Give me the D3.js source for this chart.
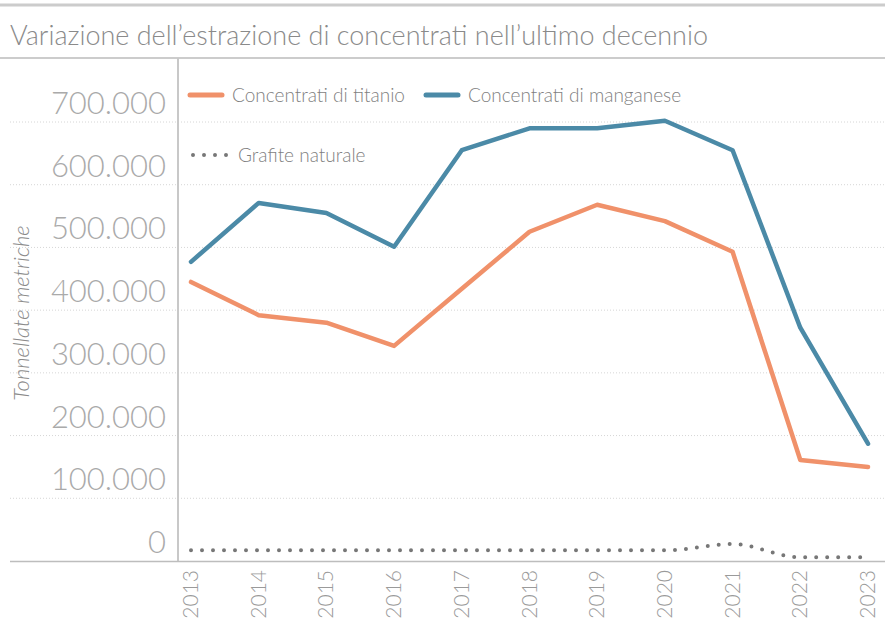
<!DOCTYPE html>
<html>
<head>
<meta charset="utf-8">
<script src="https://cdn.jsdelivr.net/npm/d3@7"></script>
<style>
  body { margin: 0; background: #fff; }
  svg { display: block; font-family: Lato, "Open Sans", sans-serif; }
</style>
</head>
<body>
<svg id="chart" width="885" height="644"></svg>
<script>
// chart data
const years = [2013, 2014, 2015, 2016, 2017, 2018, 2019, 2020, 2021, 2022, 2023];
const titanio = [445000, 392000, 380000, 343000, 434000, 525000, 568000, 542000, 493000, 161000, 150000];
const manganese = [477000, 571000, 555000, 501000, 655000, 690000, 690000, 702000, 655000, 372000, 187000];
const grafite = [17000, 17000, 17000, 17000, 17000, 17000, 17000, 17000, 27000, 6000, 6000];
const yTicks = [0, 100000, 200000, 300000, 400000, 500000, 600000, 700000];

const COLORS = { titanio: "#f0916a", manganese: "#4b8aa7", grafite: "#777777" };

const svg = d3.select("#chart");
const W = 885;

// top rules + title
svg.append("line").attr("x1", 0).attr("x2", W).attr("y1", 5).attr("y2", 5)
  .attr("stroke", "#cccccc").attr("stroke-width", 3);
svg.append("text").attr("x", 10).attr("y", 45)
  .attr("font-size", 27).attr("font-weight", 300).attr("fill", "#8a8a8a")
  .attr("textLength", 698).attr("lengthAdjust", "spacingAndGlyphs")
  .text("Variazione dell’estrazione di concentrati nell’ultimo decennio");
svg.append("line").attr("x1", 0).attr("x2", W).attr("y1", 58).attr("y2", 58)
  .attr("stroke", "#cccccc").attr("stroke-width", 2);

const x = d3.scalePoint().domain(years).range([191, 868]);
const y = d3.scaleLinear().domain([0, 700000]).range([561, 122]);

// gridlines
svg.append("g").selectAll("line").data(yTicks.filter(d => d > 0)).join("line")
  .attr("x1", 10).attr("x2", W)
  .attr("y1", d => y(d)).attr("y2", d => y(d))
  .attr("stroke", "#d6d6d6").attr("stroke-width", 1).attr("stroke-dasharray", "1,2");

// y tick labels
const fmt = d => d3.format(",")(d).replace(/,/g, ".");
svg.append("g").selectAll("text").data(yTicks).join("text")
  .attr("x", 166).attr("y", d => y(d) - 8)
  .attr("text-anchor", "end")
  .attr("font-size", 31).attr("font-weight", 300).attr("fill", "#aaaaaa")
  .text(fmt);

// y axis title
svg.append("text")
  .attr("transform", "translate(29,313) rotate(-90)")
  .attr("text-anchor", "middle")
  .attr("font-size", 22).attr("font-style", "italic").attr("font-weight", 300)
  .attr("fill", "#8a8a8a")
  .text("Tonnellate metriche");

// axis lines
svg.append("line").attr("x1", 178).attr("x2", 178).attr("y1", 58).attr("y2", 562)
  .attr("stroke", "#c8c8c8").attr("stroke-width", 2);
svg.append("line").attr("x1", 10).attr("x2", W).attr("y1", 561.5).attr("y2", 561.5)
  .attr("stroke", "#bdbdbd").attr("stroke-width", 1.5);

// x tick labels
svg.append("g").selectAll("text").data(years).join("text")
  .attr("transform", d => `translate(${x(d) + 7},570) rotate(-90)`)
  .attr("text-anchor", "end")
  .attr("font-size", 21).attr("font-weight", 300).attr("fill", "#9a9a9a")
  .text(d => d);

// series
const line = d3.line().x((d, i) => x(years[i])).y(d => y(d));
svg.append("path").datum(titanio).attr("d", line)
  .attr("fill", "none").attr("stroke", COLORS.titanio).attr("stroke-width", 4.5)
  .attr("stroke-linejoin", "round").attr("stroke-linecap", "round");
svg.append("path").datum(manganese).attr("d", line)
  .attr("fill", "none").attr("stroke", COLORS.manganese).attr("stroke-width", 4.5)
  .attr("stroke-linejoin", "round").attr("stroke-linecap", "round");
const curved = d3.line().x((d, i) => x(years[i])).y(d => y(d)).curve(d3.curveMonotoneX);
svg.append("path").datum(grafite).attr("d", curved)
  .attr("fill", "none").attr("stroke", COLORS.grafite).attr("stroke-width", 4)
  .attr("stroke-linecap", "round").attr("stroke-dasharray", "0,11");

// legend
const legend = [
  { label: "Concentrati di titanio", color: COLORS.titanio, x: 190, y: 95, dash: null },
  { label: "Concentrati di manganese", color: COLORS.manganese, x: 426, y: 95, dash: null },
  { label: "Grafite naturale", color: COLORS.grafite, x: 193, y: 155, dash: "0,11" }
];
const lg = svg.append("g").selectAll("g").data(legend).join("g")
  .attr("transform", d => `translate(${d.x},${d.y})`);
lg.append("line").attr("x1", 0).attr("x2", d => d.dash ? 34 : 32).attr("y1", 0).attr("y2", 0)
  .attr("stroke", d => d.color).attr("stroke-width", d => d.dash ? 4 : 5)
  .attr("stroke-linecap", "round").attr("stroke-dasharray", d => d.dash);
lg.append("text").attr("x", d => d.dash ? 45 : 42).attr("y", 7)
  .attr("font-size", 19).attr("font-weight", 300).attr("fill", "#7f7f7f")
  .text(d => d.label);
</script>
</body>
</html>
